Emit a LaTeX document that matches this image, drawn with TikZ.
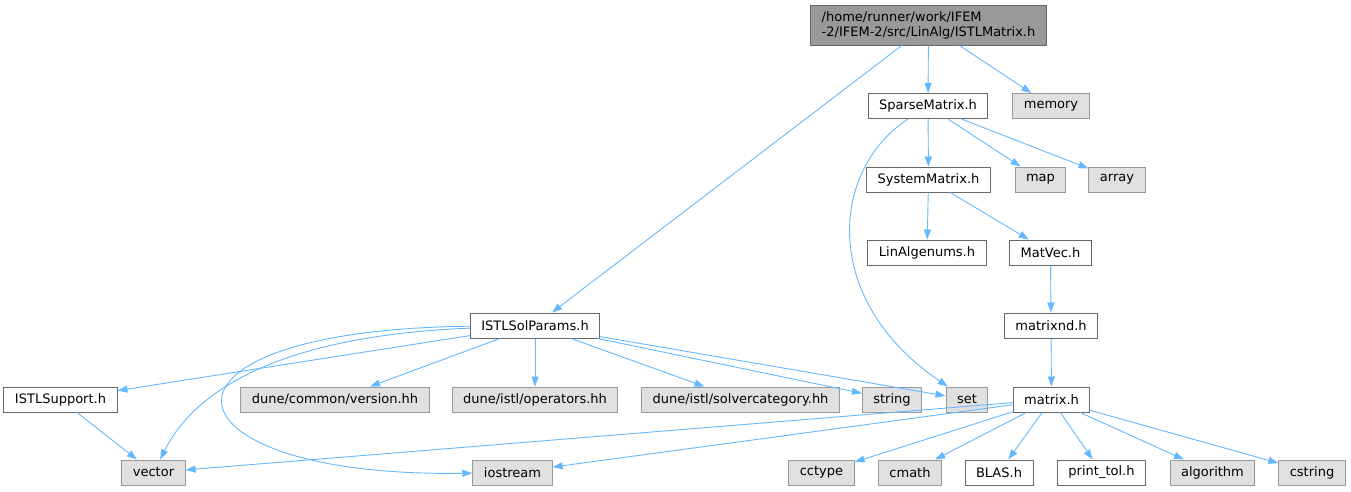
\documentclass[tikz,border=0pt]{standalone}
\usepackage{fontspec}
\setmainfont{DejaVu Sans}
\usetikzlibrary{arrows.meta}
\definecolor{edgeblue}{HTML}{63B8FF}
\tikzset{
	filebox/.style={draw=black!60, fill=white, line width=1pt, inner xsep=11pt, inner ysep=0pt, minimum height=25pt, font=\fontsize{13}{15}\selectfont},
	extbox/.style={filebox, draw=black!40, fill=black!12},
	mainbox/.style={filebox, fill=black!40, minimum height=40pt, align=left},
	edge/.style={-{Triangle[length=10pt,width=7pt]}, draw=edgeblue, line width=0.9pt},
}
\begin{document}
\begin{tikzpicture}[x=1pt, y=-1pt]
	\useasboundingbox (0,0) rectangle (1351,491);
	
	% nodes
	\node[mainbox] (istlmatrix) at (928.5,25) {/home/runner/work/IFEM\\-2/IFEM-2/src/LinAlg/ISTLMatrix.h};
	\node[filebox] (sparse) at (928,106) {SparseMatrix.h};
	\node[extbox] (memory) at (1051,106) {memory};
	\node[filebox] (sysmat) at (928.5,179.5) {SystemMatrix.h};
	\node[extbox] (map) at (1040.5,179.5) {map};
	\node[extbox] (array) at (1117,179.5) {array};
	\node[filebox] (linalgenums) at (927,252.5) {LinAlgenums.h};
	\node[filebox] (matvec) at (1050.5,252.5) {MatVec.h};
	\node[filebox] (matrixnd) at (1051,325.5) {matrixnd.h};
	\node[filebox] (solparams) at (535,325.5) {ISTLSolParams.h};
	\node[filebox] (support) at (60.5,399.5) {ISTLSupport.h};
	\node[extbox] (version) at (335,399.5) {dune/common/version.hh};
	\node[extbox] (operators) at (535,399.5) {dune/istl/operators.hh};
	\node[extbox] (solvercat) at (740.5,399.5) {dune/istl/solvercategory.hh};
	\node[extbox] (string) at (892,399.5) {string};
	\node[extbox] (set) at (967,399.5) {set};
	\node[filebox] (matrix) at (1051.5,399.5) {matrix.h};
	\node[extbox] (vector) at (153.5,472.5) {vector};
	\node[extbox] (iostream) at (512.5,472.5) {iostream};
	\node[extbox] (cctype) at (821.5,472.5) {cctype};
	\node[extbox] (cmath) at (910,472.5) {cmath};
	\node[filebox] (blas) at (999,472.5) {BLAS.h};
	\node[filebox] (printtol) at (1101.5,472.5) {print\_tol.h};
	\node[extbox] (algorithm) at (1212.5,472.5) {algorithm};
	\node[extbox] (cstring) at (1312,472.5) {cstring};
	
	% edges
	\draw[edge] (istlmatrix) -- (sparse);
	\draw[edge] (istlmatrix) -- (memory);
	\draw[edge] (istlmatrix) -- (solparams);
	\draw[edge] (sparse) -- (sysmat);
	\draw[edge] (sparse) -- (map);
	\draw[edge] (sparse) -- (array);
	\draw[edge] (sparse) .. controls (830,170) and (820,300) .. (set);
	\draw[edge] (sysmat) -- (linalgenums);
	\draw[edge] (sysmat) -- (matvec);
	\draw[edge] (matvec) -- (matrixnd);
	\draw[edge] (matrixnd) -- (matrix);
	\draw[edge] (solparams) -- (support);
	\draw[edge] (solparams) .. controls (300,335) and (200,380) .. (vector);
	\draw[edge] (solparams) .. controls (125,330) and (155,478) .. (iostream);
	\draw[edge] (solparams) -- (version);
	\draw[edge] (solparams) -- (operators);
	\draw[edge] (solparams) -- (solvercat);
	\draw[edge] (solparams) -- (string);
	\draw[edge] (solparams) -- (set);
	\draw[edge] (support) -- (vector);
	\foreach \t in {vector,iostream,cctype,cmath,blas,printtol,algorithm,cstring}
		\draw[edge] (matrix) -- (\t);
\end{tikzpicture}
\end{document}
